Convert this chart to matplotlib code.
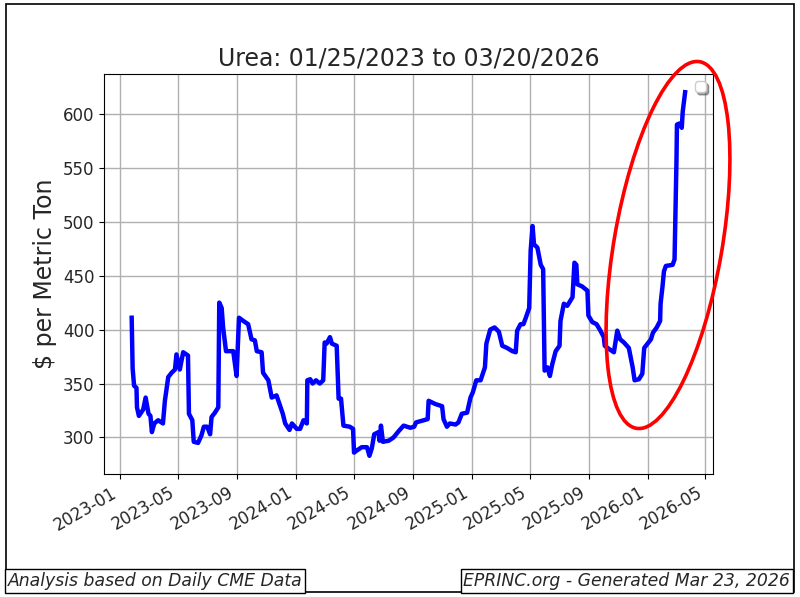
import matplotlib
matplotlib.use("Agg")
import matplotlib.pyplot as plt
import matplotlib.dates as mdates
from matplotlib.patches import Ellipse, Rectangle
import numpy as np
import pandas as pd
import warnings

dates = [
    "2023-01-25", "2023-01-27", "2023-01-30", "2023-02-04", "2023-02-05", "2023-02-09",
    "2023-02-18", "2023-02-23", "2023-03-01", "2023-03-05", "2023-03-08", "2023-03-13",
    "2023-03-21", "2023-03-31", "2023-04-04", "2023-04-11", "2023-04-18", "2023-04-25",
    "2023-04-28", "2023-05-05", "2023-05-12", "2023-05-22", "2023-05-24", "2023-05-31",
    "2023-06-03", "2023-06-12", "2023-06-19", "2023-06-24", "2023-07-01", "2023-07-07",
    "2023-07-10", "2023-07-17", "2023-07-24", "2023-07-26", "2023-07-31", "2023-08-03",
    "2023-08-09", "2023-08-24", "2023-08-31", "2023-09-05", "2023-09-14", "2023-09-24",
    "2023-10-01", "2023-10-08", "2023-10-12", "2023-10-22", "2023-10-25", "2023-11-05",
    "2023-11-12", "2023-11-22", "2023-11-29", "2023-12-05", "2023-12-10", "2023-12-19",
    "2023-12-24", "2024-01-03", "2024-01-10", "2024-01-17", "2024-01-24", "2024-01-25",
    "2024-01-31", "2024-02-05", "2024-02-12", "2024-02-20", "2024-02-27", "2024-03-01",
    "2024-03-05", "2024-03-12", "2024-03-16", "2024-03-26", "2024-03-30", "2024-04-04",
    "2024-04-09", "2024-04-22", "2024-04-29", "2024-05-01", "2024-05-07", "2024-05-17",
    "2024-05-28", "2024-06-02", "2024-06-07", "2024-06-12", "2024-06-21", "2024-06-23",
    "2024-06-26", "2024-06-30", "2024-07-12", "2024-07-22", "2024-08-02", "2024-08-12",
    "2024-08-26", "2024-09-03", "2024-09-07", "2024-09-23", "2024-10-01", "2024-10-03",
    "2024-10-17", "2024-10-31", "2024-11-03", "2024-11-10", "2024-11-16", "2024-11-28",
    "2024-12-04", "2024-12-11", "2024-12-22", "2024-12-29", "2025-01-03", "2025-01-10",
    "2025-01-19", "2025-01-28", "2025-01-31", "2025-02-08", "2025-02-17", "2025-02-26",
    "2025-03-05", "2025-03-15", "2025-03-26", "2025-04-02", "2025-04-05", "2025-04-12",
    "2025-04-18", "2025-04-23", "2025-04-30", "2025-05-03", "2025-05-07", "2025-05-10",
    "2025-05-17", "2025-05-24", "2025-05-29", "2025-06-01", "2025-06-07", "2025-06-12",
    "2025-06-17", "2025-06-24", "2025-07-02", "2025-07-04", "2025-07-11", "2025-07-18",
    "2025-07-29", "2025-08-02", "2025-08-06", "2025-08-08", "2025-08-18", "2025-08-29",
    "2025-08-31", "2025-09-08", "2025-09-17", "2025-09-25", "2025-10-02", "2025-10-04",
    "2025-10-13", "2025-10-23", "2025-10-30", "2025-11-05", "2025-11-13", "2025-11-23",
    "2025-12-01", "2025-12-05", "2025-12-14", "2025-12-21", "2025-12-25", "2026-01-01",
    "2026-01-08", "2026-01-12", "2026-01-20", "2026-01-27", "2026-01-28", "2026-02-01",
    "2026-02-04", "2026-02-08", "2026-02-22", "2026-02-26", "2026-03-02", "2026-03-03",
    "2026-03-08", "2026-03-13", "2026-03-15", "2026-03-20",
]
prices = [
    411, 364, 348, 346, 328, 320,
    326, 337, 322, 320, 305, 313,
    316, 313, 334, 356, 360, 363,
    377, 363, 379, 376, 322, 316,
    296, 295, 302, 310, 310, 303,
    319, 323, 328, 425, 420, 402,
    380, 380, 357, 411, 408, 405,
    391, 390, 380, 379, 360, 353,
    337, 339, 330, 322, 313, 307,
    313, 308, 308, 316, 313, 353,
    354, 350, 353, 350, 353, 388,
    387, 393, 387, 385, 336, 336,
    311, 310, 308, 286, 288, 291,
    291, 283, 290, 303, 305, 297,
    311, 296, 297, 300, 306, 311,
    309, 310, 314, 316, 317, 334,
    331, 329, 317, 310, 313, 312,
    314, 322, 323, 337, 342, 353,
    353, 365, 387, 400, 402, 398,
    385, 383, 380, 379, 399, 405,
    405, 411, 420, 473, 496, 479,
    476, 460, 456, 362, 365, 357,
    368, 380, 385, 408, 424, 422,
    430, 462, 460, 442, 440, 436,
    413, 407, 405, 399, 393, 385,
    382, 379, 399, 391, 388, 383,
    365, 353, 354, 359, 383, 387,
    391, 397, 402, 408, 424, 440,
    454, 459, 460, 465, 556, 590,
    591, 587, 602, 620,
]

title_text = "Urea: 01/25/2023 to 03/20/2026"
ylabel_text = "$ per Metric Ton"
left_note = "Analysis based on Daily CME Data"
right_note = "EPRINC.org - Generated Mar 23, 2026"

x = pd.to_datetime(dates)
y = np.array(prices, dtype=float)

text_color = "#262626"

fig = plt.figure(figsize=(8.0, 5.97), dpi=100)
ax = fig.add_axes([0.13, 0.206, 0.761, 0.67])

ax.plot(x, y, color="blue", linewidth=3.2, solid_joinstyle="round")
ax.grid(True, color="#b0b0b0", linewidth=1.0)
ax.set_title(title_text, fontsize=17, pad=6, color=text_color)
ax.set_ylabel(ylabel_text, fontsize=17, color=text_color)
ax.tick_params(axis="both", labelsize=12, labelcolor=text_color)
ax.xaxis.set_major_locator(mdates.MonthLocator(bymonth=[1, 5, 9]))
ax.xaxis.set_major_formatter(mdates.DateFormatter("%Y-%m"))
ax.set_yticks([300, 350, 400, 450, 500, 550, 600])
for lbl in ax.get_xticklabels():
    lbl.set_rotation(30)
    lbl.set_ha("right")

with warnings.catch_warnings():
    warnings.simplefilter("ignore")
    ax.legend(loc="upper right", shadow=True)

# red highlight ellipse (annotation in pixel space)
ell = Ellipse((668, 597 - 245), width=372, height=108, angle=80.2,
              transform=None, fill=False, edgecolor="red", linewidth=2.6,
              clip_on=False)
fig.add_artist(ell)

# outer frame
fig.add_artist(Rectangle((6 / 800, 1 - 592 / 597), 788 / 800, 588 / 597,
                         transform=fig.transFigure, fill=False,
                         edgecolor="black", linewidth=1.2))

fig.text(8 / 800, 1 - 581 / 597, left_note, fontsize=12.4, style="italic",
         ha="left", va="center", color=text_color,
         bbox=dict(boxstyle="square,pad=0.15", facecolor="white",
                   edgecolor="black", linewidth=1.0))
fig.text(790 / 800, 1 - 581 / 597, right_note, fontsize=12.4, style="italic",
         ha="right", va="center", color=text_color,
         bbox=dict(boxstyle="square,pad=0.15", facecolor="white",
                   edgecolor="black", linewidth=1.0))

fig.savefig("out.png", dpi=100)
